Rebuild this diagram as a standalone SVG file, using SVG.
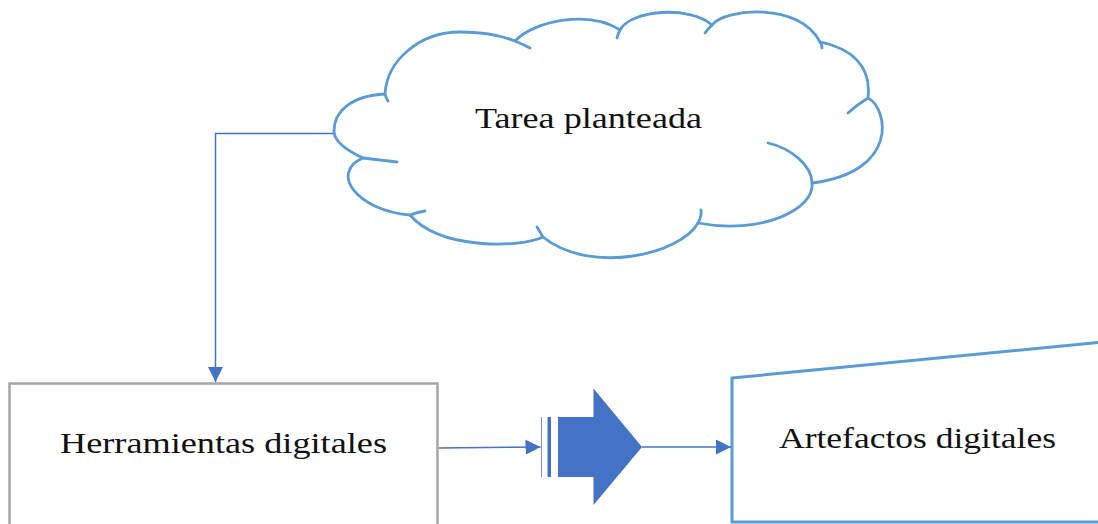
<svg xmlns="http://www.w3.org/2000/svg" width="1098" height="524" viewBox="0 0 1098 524">
  <style>
    .lbl { font-family: "Liberation Serif", "Times New Roman", serif; font-size: 30px; fill: #111; }
    .cloud { fill: #fff; stroke: #5B9BD5; stroke-width: 2.8; stroke-linejoin: round; }
    .hook { fill: none; stroke: #5B9BD5; stroke-width: 2.8; stroke-linecap: round; }
    .conn { fill: none; stroke: #4472C4; stroke-width: 1.5; }
  </style>
  <defs>
    <marker id="arr" viewBox="0 0 15 15" refX="15" refY="7.5" markerWidth="15" markerHeight="15" markerUnits="userSpaceOnUse" orient="auto">
      <path d="M0,0 L15,7.5 L0,15 z" fill="#4472C4"/>
    </marker>
  </defs>
  <rect width="1098" height="524" fill="#fff"/>

  <g id="tarea">
    <path class="cloud" d="M385,94 C387,60 420,32 460,32 C480,32 500,35 515,41 C535,20 590,10 620,30 C630,10 690,5 712,25 C725,8 800,2 820,42 C850,48 872,65 868,98 C888,108 900,172 812,183 C815,210 760,235 698,223 C680,255 590,275 543,237 C520,248 440,250 410,215 C355,210 330,172 363,158 C350,152 334,143 334,131 C334,112 350,96 385,94 Z"/>
    <path class="hook" d="M385,94 Q386,98 388,101"/>
    <path class="hook" d="M515,41 Q522,44 530,48"/>
    <path class="hook" d="M620,30 Q618,34 617,38"/>
    <path class="hook" d="M712,25 Q708,29 705,33"/>
    <path class="hook" d="M820,42 Q822,45 822,48"/>
    <path class="hook" d="M868,98 Q858,104 848,113"/>
    <path class="hook" d="M812,183 C812,165 790,148 768,143"/>
    <path class="hook" d="M698,223 Q702,216 701,210"/>
    <path class="hook" d="M543,237 Q540,232 537,227"/>
    <path class="hook" d="M410,215 Q418,212 425,211"/>
    <path class="hook" d="M363,158 Q380,160 397,162"/>
    <text class="lbl" x="475" y="128" textLength="227" lengthAdjust="spacingAndGlyphs">Tarea planteada</text>
  </g>

  <g id="herramientas">
    <rect x="9.5" y="383.5" width="428" height="160" fill="#fff" stroke="#A5A5A5" stroke-width="2.5"/>
    <text class="lbl" x="60" y="453" textLength="327" lengthAdjust="spacingAndGlyphs">Herramientas digitales</text>
  </g>

  <g id="flecha-bloque" fill="#4472C4">
    <rect x="541" y="417" width="1" height="60" opacity="0.75"/>
    <rect x="547.5" y="417" width="3.5" height="60"/>
    <path d="M558,417 L593.5,417 L593.5,388.5 L642,447 L593.5,505 L593.5,477 L558,477 Z"/>
  </g>

  <g id="artefactos">
    <path d="M732,378 L1110,341.4 L1110,522 L732,522 Z" fill="#fff" stroke="#5B9BD5" stroke-width="3" stroke-linejoin="miter"/>
    <text class="lbl" x="779" y="448" textLength="277" lengthAdjust="spacingAndGlyphs">Artefactos digitales</text>
  </g>

  <g id="connectors">
    <path class="conn" d="M333,133.5 L215.5,133.5 L215.5,382" marker-end="url(#arr)"/>
    <path class="conn" d="M439,448 L540.5,447" marker-end="url(#arr)"/>
    <path class="conn" d="M642,447 L731,447" marker-end="url(#arr)"/>
  </g>
</svg>
